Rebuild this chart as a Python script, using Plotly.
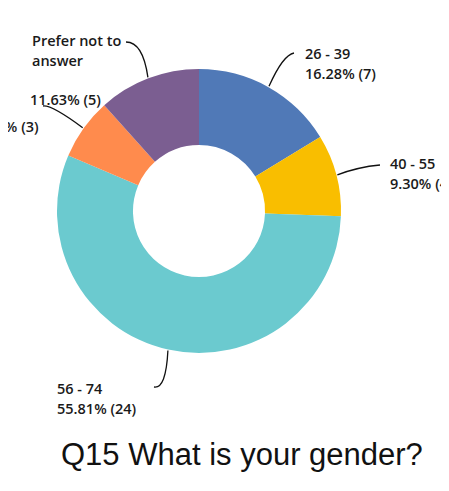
import math
import plotly.graph_objects as go

# ---- data ----
categories = ["26 - 39", "40 - 55", "56 - 74", "75+", "Prefer not to answer"]
counts = [7, 4, 24, 3, 5]
colors = ["#5079B7", "#F9BE00", "#6BCACF", "#FF8B4D", "#7B5E91"]
title_text = "Q15 What is your gender?"

W, H = 449, 491
OFF = 8  # page body margin in the browser
CX, CY, R = 199 - OFF, 211 - OFF, 142
HOLE = 0.465


def px(x):
    return (x - OFF) / W


def py(y):
    return 1 - (y - OFF) / H


total = sum(counts)
pcts = [c / total * 100 for c in counts]

fig = go.Figure(go.Pie(
    labels=categories,
    values=counts,
    sort=False,
    direction="clockwise",
    rotation=0,
    hole=HOLE,
    marker=dict(colors=colors, line=dict(width=0)),
    textinfo="none",
    hoverinfo="label+percent+value",
    showlegend=False,
    domain=dict(x=[(CX - R) / W, (CX + R) / W], y=[1 - (CY + R) / H, 1 - (CY - R) / H]),
))

label_font = dict(family="Open Sans, Roboto, Arial, sans-serif", size=14.5, color="#1a1a1a", weight=600)

# label layout in page px: (text or None for percentage line, x, y), connector end & control point
label_layout = {
    0: dict(lines=[(categories[0], 303, 53), (None, 303, 73)], end=(294, 53), ctrl=(283, 55)),
    1: dict(lines=[(categories[1], 388, 164), (None, 388, 183)], end=(380, 165), ctrl=(358, 167)),
    2: dict(lines=[(categories[2], 55, 388), (None, 55, 408)], end=(154, 387), ctrl=(166, 389)),
    3: dict(lines=[(categories[3], -26, 107), (None, -26, 127)], end=(43, 106), ctrl=(52, 105)),
    4: dict(lines=[("Prefer not to", 30, 41), ("answer", 30, 60), (None, 28, 100)], end=(126, 42), ctrl=(143, 42)),
}

annotations = []
shapes = []
cum = 0
for i, c in enumerate(counts):
    a0 = cum / total * 360
    cum += c
    a1 = cum / total * 360
    mid = math.radians((a0 + a1) / 2)
    sx = CX + OFF + (R + 1) * math.sin(mid)
    sy = CY + OFF - (R + 1) * math.cos(mid)
    lay = label_layout[i]
    ex, ey = lay["end"]
    qx, qy = lay["ctrl"]
    path = f"M {px(sx)},{py(sy)} Q {px(qx)},{py(qy)} {px(ex)},{py(ey)}"
    shapes.append(dict(type="path", path=path, xref="paper", yref="paper",
                       line=dict(color="#111111", width=1.3)))
    pct_line = f"{pcts[i]:.2f}% ({c})"
    for txt, lx, ly in lay["lines"]:
        t = pct_line if txt is None else txt
        annotations.append(dict(text=t, x=px(lx), y=py(ly), xref="paper", yref="paper",
                                xanchor="left", yanchor="middle", showarrow=False,
                                font=label_font))

annotations.append(dict(text=title_text, x=px(242), y=py(454), xref="paper", yref="paper",
                        xanchor="center", yanchor="middle", showarrow=False,
                        font=dict(family="Liberation Sans, Arial, sans-serif", size=31, color="#111111")))

fig.update_layout(
    width=W, height=H,
    margin=dict(l=0, r=0, t=0, b=0),
    paper_bgcolor="white",
    plot_bgcolor="white",
    annotations=annotations,
    shapes=shapes,
)

fig.write_html("out.html")
